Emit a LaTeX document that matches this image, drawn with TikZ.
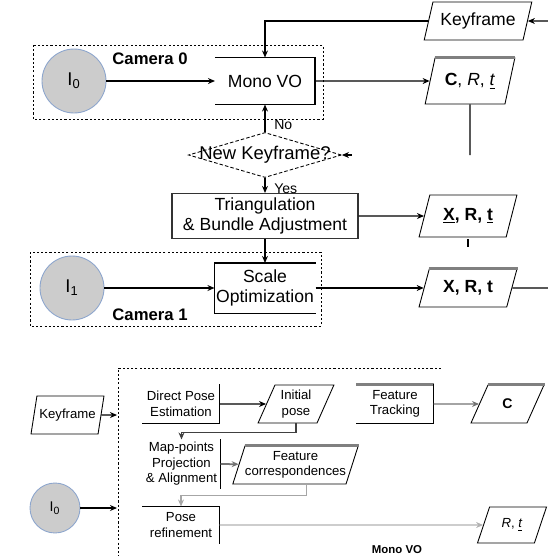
\documentclass[tikz,border=0pt]{standalone}
\usepackage{fontspec}
\setmainfont{Liberation Sans}
\usetikzlibrary{shapes.geometric,arrows.meta,calc}
\definecolor{imgedge}{RGB}{140,165,205}
\definecolor{imgfill}{RGB}{204,204,204}

\begin{document}
\begin{tikzpicture}[x=0.02cm, y=-0.02cm, line width=0.6pt,
  txt/.style={font=\fontsize{10}{11.3}\selectfont, align=center, inner sep=0pt},
  small/.style={font=\fontsize{7.5}{8.8}\selectfont, align=center, inner sep=0pt},
  camlbl/.style={font=\fontsize{9.5}{11}\selectfont\bfseries, inner sep=0pt},
  img/.style={circle, draw=imgedge, fill=imgfill, line width=0.5pt, inner sep=0pt},
  io/.style={trapezium, trapezium left angle=66, trapezium right angle=114,
    trapezium stretches=true, draw, line width=0.5pt, inner sep=0pt},
  topbar/.style={draw=gray, line width=1.4pt},
  frame/.style={draw, line width=0.5pt, dash pattern=on 1.2pt off 1.2pt},
  arr/.style={-{Stealth[length=4pt,width=3.4pt]}}]
  \useasboundingbox (0,0) rectangle (548,556);

  % Camera 0
  \draw[frame] (33,45) rectangle (323,119);
  \node[camlbl] (cam0) at (150,59) {Camera 0};
  \node[img, minimum size=1.28cm, font=\fontsize{10.5}{12}\selectfont] (i0) at (74,81) {I\textsubscript{0}};
  \node[txt, minimum width=1.98cm, minimum height=0.92cm] (mono) at (265,81) {Mono VO};
  \draw (mono.north west) -- (mono.north east) -- (mono.south east) -- (mono.south west);
  \node[io, txt, minimum width=2.16cm, minimum height=0.76cm] (kf) at (478,21) {Keyframe};
  \node[io, txt, minimum width=1.8cm, minimum height=0.92cm] (crt) at (470,81)
    {\textbf{C}, \textit{R}, \underline{\textit{t}}};
  \draw[topbar] (crt.top left corner) -- (crt.top right corner);
  \node[diamond, draw, line width=0.5pt, dash pattern=on 2pt off 1.2pt,
    minimum width=3.06cm, minimum height=0.9cm, inner sep=0pt,
    font=\fontsize{10.5}{12}\selectfont] (newkf) at (265,155) {\makebox[0pt]{New Keyframe?}};
  \coordinate (stub) at (352,155);
  \coordinate (crtend) at (470,155);
  \coordinate (kfin) at (548,21);
  \node[txt, draw=black!80, minimum width=3.72cm, minimum height=0.9cm] (tri) at (265,216)
    {Triangulation\\\& Bundle Adjustment};
  \node[io, txt, minimum width=1.96cm, minimum height=0.84cm] (xrt1) at (468,216)
    {\textbf{\underline{X}, R, \underline{t}}};
  \coordinate (tick1) at (468,239);
  \coordinate (tick2) at (468,247);

  % Camera 1
  \draw[frame] (30,252) rectangle (321,326);
  \node[camlbl] (cam1) at (150,315) {Camera 1};
  \node[img, minimum size=1.28cm, font=\fontsize{10.5}{12}\selectfont] (i1) at (72,288) {I\textsubscript{1}};
  \node[txt, minimum width=2cm, minimum height=0.98cm] (scale) at (265,288) {Scale\\Optimization};
  \draw (scale.north east) -- (scale.north west) -- (scale.south west) -- (scale.south east);
  \node[io, txt, minimum width=1.96cm, minimum height=0.76cm] (xrt2) at (468,288) {\textbf{X, R, t}};
  \draw[topbar] (xrt2.top left corner) -- (xrt2.top right corner);
  \coordinate (xrtout) at (548,288);

  % Arrows
  \draw[arr] (kfin) -- (kf.east);
  \draw[arr] (kf.west) -| (mono.north);
  \draw[arr] (i0) -- (mono.west);
  \draw[arr] (mono.east) -- (crt);
  \draw (crt.south) -- (crtend);
  \draw[arr] (stub) -- (newkf.east);
  \draw[arr] (newkf.north) -- node[pos=0.25, right=5pt, inner sep=0pt, font=\fontsize{8}{9}\selectfont]{No} (mono.south);
  \draw[arr] (newkf.south) -- node[pos=0.7, right=5pt, inner sep=0pt, font=\fontsize{8}{9}\selectfont]{Yes} (tri.north);
  \draw[arr] (tri.east) -- (xrt1);
  \draw (tick1) -- (tick2);
  \draw[arr] (tri.south) -- (scale.north);
  \draw[arr] (i1) -- (scale.west);
  \draw[arr] (scale.east) -- (xrt2);
  \draw (xrt2.east) -- (xrtout);

  % Mono VO detail
  \draw[frame] (441,368) -- (118,368) -- (118,556);
  \node[font=\fontsize{6.5}{8}\selectfont\bfseries, inner sep=0pt] (monolbl) at (397,550) {Mono VO};
  \node[io, small, minimum width=1.46cm, minimum height=0.76cm] (kf2) at (67.5,415) {Keyframe};
  \coordinate (kf2in) at (117,415);
  \node[img, minimum size=1cm, font=\fontsize{8}{9}\selectfont] (i0b) at (55,508) {I\textsubscript{0}};
  \coordinate (i0bin) at (117,508);
  \node[small, minimum width=1.52cm, minimum height=0.76cm] (dpe) at (181,404) {Direct Pose\\Estimation};
  \draw (dpe.north east) -- (dpe.south east) -- (dpe.south west);
  \node[io, small, minimum width=1.52cm, minimum height=0.76cm] (ip) at (296,404) {Initial\\pose};
  \node[small, minimum width=1.54cm, minimum height=0.96cm] (mpp) at (181.5,464)
    {Map-points\\Projection\\\& Alignment};
  \draw (mpp.north east) -- (mpp.south east);
  \node[io, small, minimum width=2.3cm, minimum height=0.76cm] (fc) at (295.5,465)
    {Feature\\correspondences};
  \draw[topbar] (fc.top left corner) -- (fc.top right corner);
  \node[small, minimum width=1.52cm, minimum height=0.72cm] (pr) at (181,525) {Pose\\refinement};
  \draw (pr.north west) -- (pr.north east) -- (pr.south east);
  \node[small, minimum width=1.52cm, minimum height=0.76cm] (ft) at (395,404) {Feature\\Tracking};
  \draw[topbar] (ft.north west) -- (ft.north east);
  \draw (ft.north east) -- (ft.south east) -- (ft.south west);
  \node[io, small, minimum width=1.46cm, minimum height=0.76cm,
    font=\fontsize{8}{9}\selectfont\bfseries] (cout) at (507.5,404) {C};
  \draw[topbar] (cout.top left corner) -- (cout.top right corner);
  \node[io, small, minimum width=1.38cm, minimum height=0.72cm] (rtout) at (512,525)
    {\textit{R}, \underline{\textit{t}}};

  \draw[arr] (kf2) -- (kf2in);
  \draw[arr] (i0b) -- (i0bin);
  \draw[arr] (dpe.east) -- (ip);
  \draw[arr, draw=black!75] (ip.south) -- ++(0,9) -| (mpp.north);
  \draw[arr, draw=black!55, line width=1pt] (mpp.east) -- (fc);
  \draw[arr, draw=black!35] ([xshift=0.22cm]fc.south) -- ++(0,11) -| (pr.north);
  \draw[arr, draw=black!55] (ft.east) -- (cout);
  \draw[arr, draw=black!30] (pr.east) -- (rtout);
\end{tikzpicture}
\end{document}
